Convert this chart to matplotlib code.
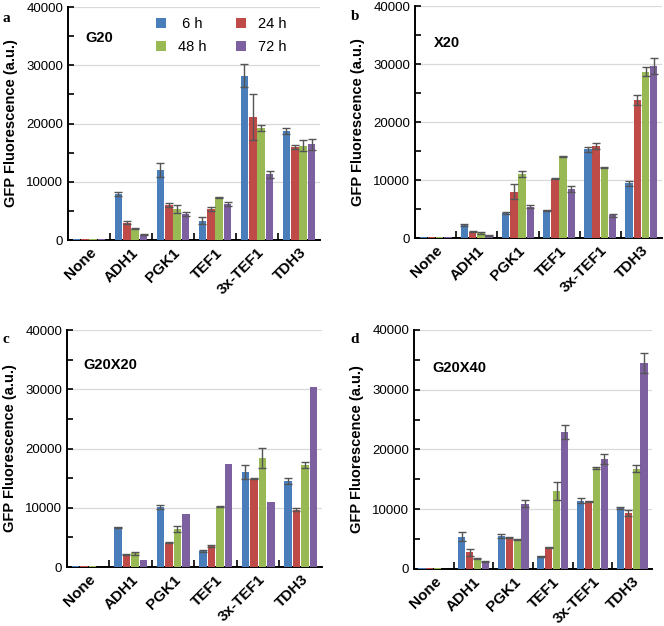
import matplotlib as mpl
mpl.use("Agg")
import matplotlib.pyplot as plt
import numpy as np

mpl.rcParams["font.family"] = ["Liberation Sans", "DejaVu Sans"]

promoters = ["None", "ADH1", "PGK1", "TEF1", "3x-TEF1", "TDH3"]
times = [" 6 h", "24 h", "48 h", "72 h"]
colors = ["#4a7ebb", "#be4b48", "#98b954", "#7d60a0"]

# values per time point (6 h, 24 h, 48 h, 72 h), one entry per promoter
g20_mean = [[200, 7900, 12100, 3300, 28200, 18700],
            [150, 3000, 6000, 5300, 21100, 16000],
            [100, 1950, 5300, 7300, 19200, 16200],
            [100, 900, 4500, 6200, 11300, 16400]]
g20_err = [[0, 400, 1200, 600, 2000, 500],
           [0, 200, 300, 300, 4000, 300],
           [0, 100, 700, 100, 500, 1000],
           [0, 100, 300, 300, 600, 900]]

x20_mean = [[150, 2300, 4300, 4800, 15300, 9400],
            [250, 1100, 8000, 10200, 15800, 23800],
            [150, 850, 11100, 14100, 12200, 28700],
            [100, 500, 5400, 8500, 3900, 29600]]
x20_err = [[0, 200, 100, 100, 400, 500],
           [0, 100, 1300, 100, 500, 800],
           [0, 100, 500, 100, 100, 700],
           [0, 100, 300, 500, 300, 1400]]

g20x20_mean = [[100, 6700, 10100, 2700, 16000, 14500],
               [100, 2100, 4100, 3600, 14900, 9700],
               [100, 2300, 6400, 10200, 18400, 17200],
               [50, 1200, 8900, 17400, 10900, 30400]]
g20x20_err = [[0, 100, 300, 100, 1200, 500],
              [0, 100, 100, 200, 100, 300],
              [0, 300, 500, 100, 1700, 500],
              [0, 0, 0, 0, 0, 0]]

g20x40_mean = [[100, 5400, 5500, 2100, 11400, 10200],
               [150, 2800, 5200, 3600, 11300, 9300],
               [100, 1800, 4900, 13000, 16900, 16800],
               [50, 1200, 10900, 22900, 18400, 34500]]
g20x40_err = [[0, 800, 300, 100, 400, 100],
              [0, 600, 100, 100, 100, 500],
              [0, 100, 100, 1500, 100, 600],
              [0, 100, 600, 1200, 900, 1700]]

panels = [
    ("a", "G20", g20_mean, g20_err, [0.1024, 0.6166, 0.3795, 0.3722], (0.067, 0.867)),
    ("b", "X20", x20_mean, x20_err, [0.625, 0.6198, 0.372, 0.3706], (0.077, 0.84)),
    ("c", "G20X20", g20x20_mean, g20x20_err, [0.1009, 0.0942, 0.384, 0.3786], (0.063, 0.852)),
    ("d", "G20X40", g20x40_mean, g20x40_err, [0.6235, 0.0911, 0.3584, 0.3818], (0.076, 0.84)),
]
letter_pos = {"a": (0.004, 0.981), "b": (0.528, 0.984), "c": (0.004, 0.468), "d": (0.528, 0.468)}

fig = plt.figure(figsize=(6.64, 6.26), dpi=100)
x = np.arange(len(promoters))
width = 0.18
offsets = [-0.3, -0.1, 0.1, 0.3]

for letter, name, means, errs, pos, tpos in panels:
    ax = fig.add_axes(pos)
    bars = []
    for i in range(4):
        b = ax.bar(x + offsets[i], means[i], width, color=colors[i],
                   edgecolor="none", zorder=3, label=times[i])
        e = np.array(errs[i])
        mask = e > 0
        ax.errorbar((x + offsets[i])[mask], np.array(means[i])[mask], yerr=e[mask],
                    fmt="none", ecolor="#555555", elinewidth=1.0, capsize=3,
                    capthick=1.0, zorder=4)
        bars.append(b)
    ax.set_xlim(-0.5, 5.5)
    ax.set_ylim(0, 40000)
    ax.set_yticks(np.arange(0, 40001, 10000))
    ax.set_yticks(np.arange(0, 40001, 5000), minor=True)
    ax.yaxis.grid(True, color="#d9d9d9", linewidth=0.9, zorder=0)
    ax.set_axisbelow(True)
    ax.set_xticks(x)
    ax.set_xticklabels(promoters, rotation=45, ha="right", rotation_mode="anchor",
                       fontsize=11, fontweight="bold")
    ax.set_xticks(np.arange(0.5, 5.0, 1.0), minor=True)
    ax.tick_params(axis="x", which="major", length=0, pad=4)
    ax.tick_params(axis="x", which="minor", direction="in", length=5, width=1.2)
    ax.tick_params(axis="y", which="both", direction="in", length=4, width=1.2,
                   labelsize=9.5)
    for s in ["top", "right"]:
        ax.spines[s].set_visible(False)
    for s in ["left", "bottom"]:
        ax.spines[s].set_linewidth(1.4)
    ax.set_ylabel("GFP Fluorescence (a.u.)", fontsize=10.5, fontweight="bold", labelpad=6)
    ax.text(tpos[0], tpos[1], name, transform=ax.transAxes, fontsize=10.5,
            fontweight="bold", va="center", ha="left")
    fig.text(letter_pos[letter][0], letter_pos[letter][1], letter,
             family="Liberation Serif", fontweight="bold", fontsize=11, va="top")
    if letter == "a":
        order = [0, 2, 1, 3]
        ax.legend([bars[k] for k in order], [times[k] for k in order], ncol=2,
                  loc="upper left", bbox_to_anchor=(0.35, 0.955), frameon=False,
                  borderaxespad=0, borderpad=0, fontsize=10.5, handlelength=0.7,
                  handleheight=0.7, handletextpad=0.8, columnspacing=2.0,
                  labelspacing=0.6)

fig.savefig("out.png", dpi=100)
